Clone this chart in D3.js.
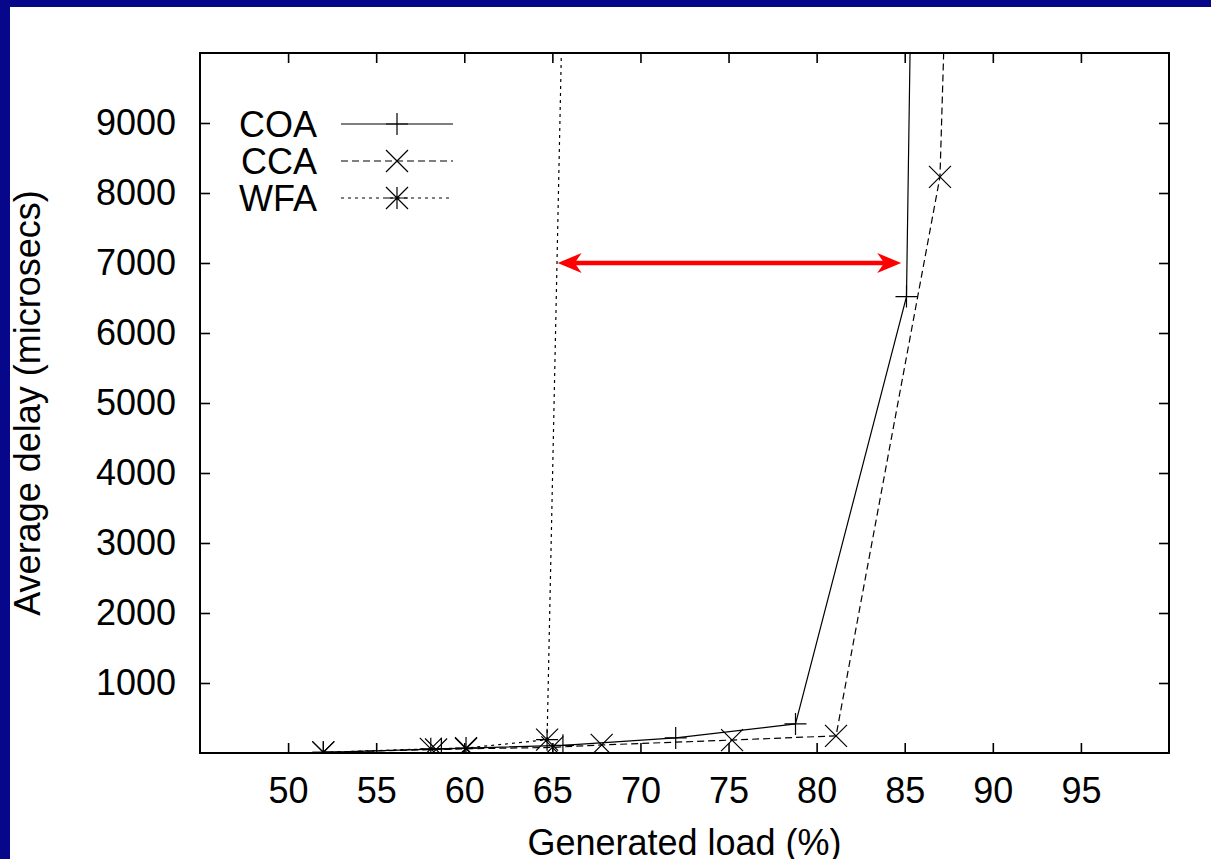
<!DOCTYPE html>
<html>
<head>
<meta charset="utf-8">
<script src="https://cdn.jsdelivr.net/npm/d3@7"></script>
<style>
  html, body { margin: 0; padding: 0; background: #fff; }
  svg { display: block; font-family: "Liberation Sans", Arial, Helvetica, sans-serif; }
</style>
</head>
<body>
<svg id="chart" width="1211" height="859"></svg>
<script>
// data
const loadCOA  = [52, 58.7, 65.6, 72.0, 78.8, 85.1, 85.4];
const delayCOA = [10, 60, 110, 215, 415, 6520, 11700];
const loadCCA  = [52, 58.4, 60.1, 65.0, 67.8, 75.2, 81.1, 87.0, 87.4];
const delayCCA = [10, 50, 60, 80, 115, 185, 245, 8230, 11600];
const loadWFA  = [52, 58.1, 60.1, 64.7, 65.7];
const delayWFA = [10, 60, 70, 190, 12300];

const xTicks = [50, 55, 60, 65, 70, 75, 80, 85, 90, 95];
const yTicks = [1000, 2000, 3000, 4000, 5000, 6000, 7000, 8000, 9000];
const arrowLoad = [65.3, 84.8];
const arrowDelay = 7000;

const series = [
  { name: "COA", x: loadCOA, y: delayCOA, dash: null, marker: "plus" },
  { name: "CCA", x: loadCCA, y: delayCCA, dash: "7,4", marker: "cross" },
  { name: "WFA", x: loadWFA, y: delayWFA, dash: "3,4", marker: "star" }
];

const margin = { left: 200, right: 42, top: 53, bottom: 106 };
const W = 1211, H = 859;
const width = W - margin.left - margin.right;
const height = H - margin.top - margin.bottom;

const svg = d3.select("#chart");

// navy frame of the slide (left and top only)
svg.append("rect").attr("x", 0).attr("y", 0).attr("width", 10).attr("height", H).attr("fill", "#07078b");
svg.append("rect").attr("x", 0).attr("y", 0).attr("width", W).attr("height", 7).attr("fill", "#07078b");

const g = svg.append("g").attr("transform", `translate(${margin.left},${margin.top})`);

const xScale = d3.scaleLinear().domain([45, 100]).range([0, width]);
const yScale = d3.scaleLinear().domain([0, 10000]).range([height, 0]);

// axes, gnuplot style: ticks inside on all four sides
const styleAxis = sel => {
  sel.attr("font-family", null);
  sel.select(".domain").remove();
  sel.selectAll(".tick line").attr("stroke", "#000").attr("stroke-width", 1.6);
  sel.selectAll("text").attr("fill", "#000").attr("font-size", 36);
};

g.append("g")
  .attr("transform", `translate(0,${height})`)
  .call(d3.axisBottom(xScale).tickValues(xTicks).tickFormat(d3.format("d"))
    .tickSizeInner(-10).tickSizeOuter(0).tickPadding(24))
  .call(styleAxis);
g.append("g")
  .call(d3.axisTop(xScale).tickValues(xTicks).tickSizeInner(-10).tickSizeOuter(0).tickFormat(""))
  .call(styleAxis);
g.append("g")
  .call(d3.axisLeft(yScale).tickValues(yTicks).tickFormat(d3.format("d"))
    .tickSizeInner(-10).tickSizeOuter(0).tickPadding(24))
  .call(styleAxis);
g.append("g")
  .attr("transform", `translate(${width},0)`)
  .call(d3.axisRight(yScale).tickValues(yTicks).tickSizeInner(-10).tickSizeOuter(0).tickFormat(""))
  .call(styleAxis);

// axis titles
svg.append("text")
  .attr("transform", `translate(40,${margin.top + height / 2}) rotate(-90)`)
  .attr("text-anchor", "middle")
  .attr("font-size", 36)
  .text("Average delay (microsecs)");
svg.append("text")
  .attr("x", margin.left + width / 2)
  .attr("y", 855)
  .attr("text-anchor", "middle")
  .attr("font-size", 36)
  .text("Generated load (%)");

// clip the lines to the plot box
svg.append("defs").append("clipPath").attr("id", "plotClip")
  .append("rect").attr("width", width).attr("height", height);

// gnuplot point types: plus, cross, star (plus + cross)
const markerPath = (type, cx, cy) => {
  const r = 11;
  const p = d3.path();
  if (type === "plus" || type === "star") {
    p.moveTo(cx - r, cy); p.lineTo(cx + r, cy);
    p.moveTo(cx, cy - r); p.lineTo(cx, cy + r);
  }
  if (type === "cross" || type === "star") {
    p.moveTo(cx - r, cy - r); p.lineTo(cx + r, cy + r);
    p.moveTo(cx - r, cy + r); p.lineTo(cx + r, cy - r);
  }
  return p.toString();
};

const line = d3.line().x(d => xScale(d[0])).y(d => yScale(d[1]));
const plot = g.append("g").attr("clip-path", "url(#plotClip)");

series.forEach(s => {
  const pts = s.x.map((v, i) => [v, s.y[i]]);
  plot.append("path")
    .attr("fill", "none")
    .attr("stroke", "#000")
    .attr("stroke-width", 1.2)
    .attr("stroke-dasharray", s.dash)
    .attr("d", line(pts));
  plot.selectAll(null)
    .data(pts.filter(d => d[1] <= 10000))
    .enter()
    .append("path")
    .attr("fill", "none")
    .attr("stroke", "#000")
    .attr("stroke-width", 1.2)
    .attr("d", d => markerPath(s.marker, xScale(d[0]), yScale(d[1])));
});

// legend
const legend = svg.append("g");
series.forEach((s, i) => {
  const cy = 124 + i * 37;
  legend.append("text")
    .attr("x", 317).attr("y", cy + 13)
    .attr("text-anchor", "end")
    .attr("font-size", 36)
    .text(s.name);
  legend.append("line")
    .attr("x1", 341).attr("x2", 453).attr("y1", cy).attr("y2", cy)
    .attr("stroke", "#000").attr("stroke-width", 1.2)
    .attr("stroke-dasharray", s.dash);
  legend.append("path")
    .attr("fill", "none").attr("stroke", "#000").attr("stroke-width", 1.2)
    .attr("d", markerPath(s.marker, 397, cy));
});

// red double arrow
const ax0 = xScale(arrowLoad[0]), ax1 = xScale(arrowLoad[1]), ay = yScale(arrowDelay);
const headL = 24, headW = 10, notch = 17;
g.append("line")
  .attr("x1", ax0 + notch).attr("x2", ax1 - notch)
  .attr("y1", ay).attr("y2", ay)
  .attr("stroke", "#ff0000").attr("stroke-width", 4.5);
g.append("path")
  .attr("fill", "#ff0000")
  .attr("d", `M${ax0},${ay}L${ax0 + headL},${ay - headW}L${ax0 + notch},${ay}L${ax0 + headL},${ay + headW}Z`);
g.append("path")
  .attr("fill", "#ff0000")
  .attr("d", `M${ax1},${ay}L${ax1 - headL},${ay - headW}L${ax1 - notch},${ay}L${ax1 - headL},${ay + headW}Z`);

// plot frame
g.append("rect")
  .attr("width", width).attr("height", height)
  .attr("fill", "none").attr("stroke", "#000").attr("stroke-width", 2);
</script>
</body>
</html>
